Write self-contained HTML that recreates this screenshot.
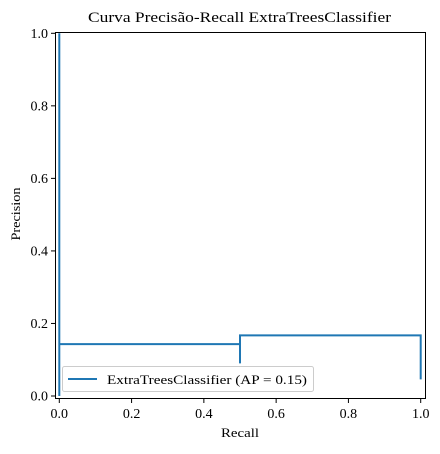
<!DOCTYPE html>
<html><head><meta charset="utf-8"><style>
body{margin:0;background:#fff;}
svg text{font-family:"Liberation Serif",serif;fill:#000;}
</style></head><body>
<svg id="chart" width="440" height="449" xmlns="http://www.w3.org/2000/svg">
<text x="239.5" y="22" font-size="15" text-anchor="middle" textLength="303" lengthAdjust="spacingAndGlyphs">Curva Precisão-Recall ExtraTreesClassifier</text>
<g id="xt"></g><g id="yt"></g>
<polyline id="curve" fill="none" stroke="#1f77b4" stroke-width="2"/>
<rect x="55.5" y="32.5" width="370" height="366" fill="none" stroke="#000" stroke-width="1"/>
<text x="240" y="437" font-size="13" text-anchor="middle" textLength="38" lengthAdjust="spacingAndGlyphs">Recall</text>
<text x="20" y="214" font-size="13" text-anchor="middle" transform="rotate(-90 20 214)" textLength="53" lengthAdjust="spacingAndGlyphs">Precision</text>
<g>
<rect x="62.5" y="366.5" width="251" height="25" rx="2" fill="#fff" fill-opacity="0.8" stroke="#ccc"/>
<line x1="68" y1="379" x2="97" y2="379" stroke="#1f77b4" stroke-width="2"/>
<text x="107" y="384" font-size="13" textLength="200" lengthAdjust="spacingAndGlyphs">ExtraTreesClassifier (AP = 0.15)</text>
</g>
</svg>
<script>
const recall=[1,1,0.5,0.5,0.5,0,0,0];
const precision=[0.046,0.167,0.167,0.09,0.143,0.143,0,1];
const xTicks=[0,0.2,0.4,0.6,0.8,1.0];
const yTicks=[0,0.2,0.4,0.6,0.8,1.0];
const NS="http://www.w3.org/2000/svg";
const sx=v=>59.3+v*361.4, sy=v=>396-v*362.7;
document.getElementById('curve').setAttribute('points',recall.map((r,i)=>sx(r)+','+sy(precision[i])).join(' '));
const xt=document.getElementById('xt'), yt=document.getElementById('yt');
xTicks.forEach(t=>{
 const l=document.createElementNS(NS,'line');
 l.setAttribute('x1',sx(t));l.setAttribute('x2',sx(t));l.setAttribute('y1',399);l.setAttribute('y2',403);l.setAttribute('stroke','#000');
 
 
 xt.appendChild(l);
 const tx=document.createElementNS(NS,'text');
 tx.setAttribute('x',sx(t));tx.setAttribute('y',418);tx.setAttribute('font-size','14');tx.setAttribute('text-anchor','middle');
 tx.textContent=t.toFixed(1);
 
 
 xt.appendChild(tx);
});
yTicks.forEach(t=>{
 const l=document.createElementNS(NS,'line');
 l.setAttribute('x1',51);l.setAttribute('x2',55);l.setAttribute('y1',sy(t));l.setAttribute('y2',sy(t));l.setAttribute('stroke','#000');
 
 
 yt.appendChild(l);
 const tx=document.createElementNS(NS,'text');
 tx.setAttribute('x',48);tx.setAttribute('y',sy(t)+4.5);tx.setAttribute('font-size','14');tx.setAttribute('text-anchor','end');
 tx.textContent=t.toFixed(1);
 
 
 yt.appendChild(tx);
});
</script>
</body></html>
